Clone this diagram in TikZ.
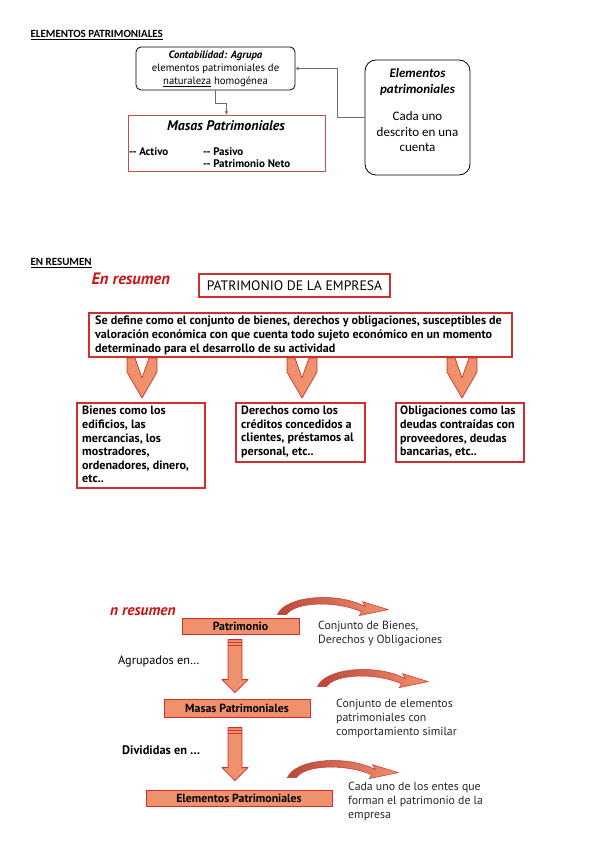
\documentclass[tikz,border=0pt]{standalone}
\usepackage{fontspec}
\setmainfont{PT Sans}
\newfontfamily\calibri{Carlito}
\usetikzlibrary{calc}
\definecolor{boxred}{HTML}{D0302C}
\definecolor{masared}{HTML}{C0504D}
\definecolor{salmon}{HTML}{F0916E}
\definecolor{darksalmon}{HTML}{B8483A}
\definecolor{linegray}{HTML}{6E6E6E}
\definecolor{resred}{HTML}{CC1414}
\definecolor{textgray}{HTML}{262626}

\begin{document}
\begin{tikzpicture}[x=1pt,y=-1pt,
  heading/.style={anchor=west,font=\calibri\bfseries\fontsize{11}{12}\selectfont},
  roundbox/.style={draw=black,line width=0.8pt,rounded corners=5pt},
  redbox/.style={draw=boxred,line width=1.1pt},
  fillbox/.style={draw=boxred,fill=salmon,line width=0.8pt,font=\bfseries\fontsize{11.8}{13}\selectfont},
  boxtext/.style={font=\bfseries\fontsize{12.1}{13.6}\selectfont,align=left,inner sep=0pt},
  sidetext/.style={anchor=west,align=left,text=textgray,font=\fontsize{11.8}{14}\selectfont,inner sep=0pt},
  masastext/.style={anchor=west,inner sep=0pt,font=\bfseries\fontsize{11}{12}\selectfont},
  chevron/.pic={
    \draw[boxred,fill=salmon,line width=0.7pt,line join=round]
      (-15,0) -- (-7,0) -- (0,20) -- (7,0) -- (15,0) -- (15,14) -- (0,40) -- (-15,14) -- cycle;
  },
  downblock/.pic={
    \draw[boxred,fill=salmon,line width=0.8pt,line join=round]
      (-7,0) -- (7,0) -- (7,40) -- (13,40) -- (0,53) -- (-13,40) -- (-7,40) -- cycle;
    \draw[boxred,line width=0.6pt] (-7,3) -- (7,3) (-7,6) -- (7,6);
  },
  bendarrow/.pic={
    \draw[boxred,line width=0.5pt,left color=darksalmon,right color=salmon,line join=round]
      (0,0) .. controls (8,-19) and (60,-23) .. (88,-8) -- (85,-13) -- (111,-5) -- (82,1) -- (84,-3)
      .. controls (58,-14) and (18,-13) .. (9,0) -- cycle;
  }]
\useasboundingbox (0,0) rectangle (599,848);

\node[heading] (tit1) at (27,35) {\underline{ELEMENTOS PATRIMONIALES}};

\node[roundbox,minimum width=159pt,minimum height=43pt,align=center,
  font=\fontsize{10.7}{13}\selectfont] (conta) at (215.5,68.5)
  {\textbf{\textit{Contabilidad: Agrupa}}\\elementos patrimoniales de\\\underline{naturaleza} homogénea};

\node[draw=masared,line width=0.9pt,minimum width=197pt,minimum height=56pt] (masas) at (226.5,143) {};
\node[font=\bfseries\itshape\fontsize{13.9}{15}\selectfont] (masastit) at (226,126) {Masas Patrimoniales};
\node[masastext] (activo) at (129,152) {-{}- Activo};
\node[masastext] (pasivo) at (203,152) {-{}- Pasivo};
\node[masastext] (neto) at (203,164) {-{}- Patrimonio Neto};

\node[roundbox,rounded corners=11pt,minimum width=105pt,minimum height=115pt] (elem) at (417.5,117.5) {};
\node[align=center,inner sep=0pt,font=\calibri\fontsize{13}{15.5}\selectfont] (elemtxt) at (417.5,110)
  {\textbf{\textit{Elementos}}\\\textbf{\textit{patrimoniales}}\\[12pt]Cada uno\\descrito en una\\cuenta};

\draw[linegray,line width=0.7pt,-{stealth}] (conta.south) -- ++(0,13) -| (masas.north);
\draw[linegray,line width=0.7pt,-{stealth}] (elem.west) -- ++(-27,0) |- (conta.east);

\node[heading] (tit2) at (27,263) {\underline{EN RESUMEN}};
\node[anchor=west,text=resred,font=\bfseries\itshape\fontsize{16.5}{18}\selectfont] (resumen1) at (88,279) {En resumen};
\node[redbox,minimum width=191pt,minimum height=23pt,font=\fontsize{13.7}{15}\selectfont] (patrimonio) at (294.5,285.5)
  {PATRIMONIO DE LA EMPRESA};
\node[redbox,minimum width=423pt,minimum height=44pt] (define) at (300.5,335) {};
\node[boxtext,anchor=north west,font=\bfseries\fontsize{12.1}{14}\selectfont] (definetxt) at (95,316)
  {Se define como el conjunto de bienes, derechos y obligaciones, susceptibles de\\
   valoración económica con que cuenta todo sujeto económico en un momento\\
   determinado para el desarrollo de su actividad};

\pic at (142,358) {chevron};
\pic at (302,358) {chevron};
\pic at (462,358) {chevron};

\node[redbox,minimum width=128pt,minimum height=85pt] (bienes) at (141,445.5) {};
\node[boxtext,anchor=north west] (bienestxt) at (82,406)
  {Bienes como los\\edificios, las\\mercancias, los\\mostradores,\\ordenadores, dinero,\\etc..};
\node[redbox,minimum width=129pt,minimum height=59pt] (derechos) at (300.5,432.5) {};
\node[boxtext,anchor=north west] (derechostxt) at (241,406)
  {Derechos como los\\créditos concedidos a\\clientes, préstamos al\\personal, etc..};
\node[redbox,minimum width=128pt,minimum height=59pt] (oblig) at (460,432.5) {};
\node[boxtext,anchor=north west] (obligtxt) at (400,406)
  {Obligaciones como las\\deudas contraídas con\\proveedores, deudas\\bancarias, etc..};

\node[anchor=west,inner sep=0pt,text=resred,font=\bfseries\itshape\fontsize{15.4}{17}\selectfont] (resumen2) at (110,612) {n resumen};
\node[fillbox,minimum width=117pt,minimum height=16pt,inner sep=0pt] (patri) at (240.5,626) {Patrimonio};
\node[fillbox,minimum width=146pt,minimum height=18pt,inner sep=0pt] (masasp) at (237,708) {Masas Patrimoniales};
\node[fillbox,minimum width=186pt,minimum height=16pt,inner sep=0pt] (elemp) at (239,798) {Elementos Patrimoniales};

\pic at ($(masasp.north)+(-2,-59)$) {downblock};
\pic at ($(elemp.north)+(-4,-62)$) {downblock};

\pic at ($(patri.north east)+(-22,-3)$) {bendarrow};
\pic at ($(masasp.north east)+(7,-12)$) {bendarrow};
\pic at ($(elemp.north east)+(-45,-12)$) {bendarrow};

\node[sidetext] (patridesc) at (318,633.5) {Conjunto de Bienes,\\Derechos y Obligaciones};
\node[sidetext] (masasdesc) at (336,718) {Conjunto de elementos\\patrimoniales con\\comportamiento similar};
\node[sidetext] (elemdesc) at (348,801) {Cada uno de los entes que\\forman el patrimonio de la\\empresa};

\node[anchor=west,inner sep=0pt,font=\fontsize{12.3}{14}\selectfont] (agrupados) at (118,661) {Agrupados en\dots};
\node[anchor=west,inner sep=0pt,font=\bfseries\fontsize{12.4}{14}\selectfont] (divididas) at (122,750) {Divididas en \dots};
\end{tikzpicture}
\end{document}
